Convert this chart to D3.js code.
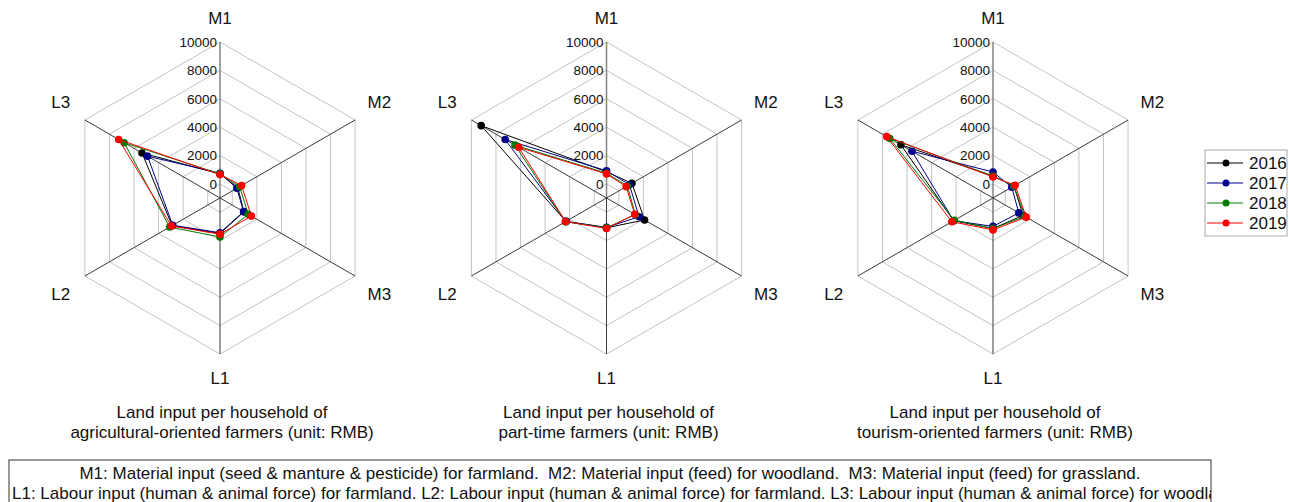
<!DOCTYPE html>
<html>
<head>
<meta charset="utf-8">
<script src="https://cdn.jsdelivr.net/npm/d3@7/dist/d3.min.js"></script>
<style>
  body { margin: 0; background: #fff; }
  text { font-family: "Liberation Sans", Arial, sans-serif; fill: #111; }
</style>
</head>
<body>
<svg id="chart" width="1289" height="502"></svg>
<script>
// ---- data (RMB per household) ----
var axes = ["M1", "M2", "M3", "L1", "L2", "L3"];
var years = ["2016", "2017", "2018", "2019"];
var colors = ["#000000", "#00008b", "#007a00", "#ff0000"];
var tickValues = [0, 2000, 4000, 6000, 8000, 10000];

// rows = years, cols = axes
var agricultural = [
  [700, 450, 950, 1500, 2900, 5350],
  [750, 370, 920, 1450, 2850, 4900],
  [700, 600, 1300, 1750, 3100, 6800],
  [650, 760, 1550, 1550, 2950, 7250]
];
var partTime = [
  [850, 1070, 2100, 1100, 2300, 9200],
  [920, 870, 1650, 1070, 2300, 7250],
  [750, 700, 1350, 1100, 2350, 6450],
  [700, 600, 1300, 1150, 2330, 6150]
];
var tourism = [
  [550, 700, 1450, 1150, 2200, 6500],
  [830, 530, 1100, 1000, 2200, 5600],
  [550, 700, 1600, 1150, 2150, 7400],
  [480, 800, 1700, 1250, 2350, 7650]
];
var panels = [agricultural, partTime, tourism];
var titleLine1 = ["Land input per household of", "Land input per household of", "Land input per household of"];
var titleLine2 = ["agricultural-oriented farmers (unit: RMB)", "part-time farmers (unit: RMB)", "tourism-oriented farmers (unit: RMB)"];
var noteLines = [
  "M1: Material input (seed & manture & pesticide) for farmland.  M2: Material input (feed) for woodland.  M3: Material input (feed) for grassland.",
  "L1: Labour input (human & animal force) for farmland. L2: Labour input (human & animal force) for farmland. L3: Labour input (human & animal force) for woodland."
];

var svg = d3.select("#chart");
var cy = 198;
var cx = d3.scalePoint().domain([0, 1, 2]).range([220, 993]);
var r = d3.scaleLinear().domain([-1000, 10000]).range([0, 156]);
var angle = d3.scalePoint().domain(axes).range([0, 2 * Math.PI * 5 / 6]);

function pt(axis, v) {
  var a = angle(axis);
  return [Math.sin(a) * r(v), -Math.cos(a) * r(v)];
}

panels.forEach(function (data, pi) {
  var g = svg.append("g").attr("transform", "translate(" + cx(pi) + "," + cy + ")");

  // grid rings
  g.selectAll(".ring")
    .data(tickValues)
    .enter().append("polygon")
    .attr("points", function (t) { return axes.map(function (ax) { return pt(ax, t).join(","); }).join(" "); })
    .attr("fill", "none")
    .attr("stroke", "#c4c4c4")
    .attr("stroke-width", 1);

  // spokes
  g.selectAll(".spoke")
    .data(axes)
    .enter().append("line")
    .attr("x1", 0).attr("y1", 0)
    .attr("x2", function (ax) { return pt(ax, 10000)[0]; })
    .attr("y2", function (ax) { return pt(ax, 10000)[1]; })
    .attr("stroke", function (ax, i) { return i === 0 ? "#8a8a8a" : "#3a3a3a"; })
    .attr("stroke-width", function (ax, i) { return i === 0 ? 1.6 : 1; });

  // tick labels
  g.selectAll(".tick")
    .data(tickValues)
    .enter().append("text")
    .attr("x", -3)
    .attr("y", function (t) { return -r(t); })
    .attr("dy", "0.36em")
    .attr("text-anchor", "end")
    .attr("font-size", 13.5)
    .text(function (t) { return t; });

  // axis labels
  g.selectAll(".axlabel")
    .data(axes)
    .enter().append("text")
    .attr("x", function (ax) { return Math.sin(angle(ax)) * 184; })
    .attr("y", function (ax) {
      var c = Math.cos(angle(ax));
      return -c * (Math.abs(c) > 0.99 ? 180 : 192);
    })
    .attr("dy", "0.36em")
    .attr("text-anchor", "middle")
    .attr("font-size", 17)
    .text(function (ax) { return ax; });

  // series
  var line = d3.line().curve(d3.curveLinearClosed);
  data.forEach(function (row, yi) {
    var pts = row.map(function (v, i) { return pt(axes[i], v); });
    g.append("path")
      .attr("d", line(pts))
      .attr("fill", "none")
      .attr("stroke", colors[yi])
      .attr("stroke-width", 1);
    g.selectAll(".dot" + yi)
      .data(pts)
      .enter().append("circle")
      .attr("cx", function (p) { return p[0]; })
      .attr("cy", function (p) { return p[1]; })
      .attr("r", 3.8)
      .attr("fill", colors[yi]);
  });

  // titles
  g.append("text").attr("x", 2).attr("y", 412 - cy).attr("dy", "0.36em")
    .attr("text-anchor", "middle").attr("font-size", 17).text(titleLine1[pi]);
  g.append("text").attr("x", 2).attr("y", 432 - cy).attr("dy", "0.36em")
    .attr("text-anchor", "middle").attr("font-size", 17).text(titleLine2[pi]);
});

// legend
var legend = svg.append("g").attr("transform", "translate(1205,150)");
legend.append("rect").attr("width", 82).attr("height", 86)
  .attr("fill", "#fff").attr("stroke", "#aaa");
var ly = d3.scalePoint().domain(years).range([13, 73]);
years.forEach(function (y, i) {
  legend.append("line").attr("x1", 2).attr("x2", 38).attr("y1", ly(y)).attr("y2", ly(y))
    .attr("stroke", colors[i]).attr("stroke-width", 1);
  legend.append("circle").attr("cx", 21).attr("cy", ly(y)).attr("r", 3.5).attr("fill", colors[i]);
  legend.append("text").attr("x", 44).attr("y", ly(y)).attr("dy", "0.36em")
    .attr("font-size", 17).text(y);
});

// note box
svg.append("clipPath").attr("id", "noteclip")
  .append("rect").attr("x", 9).attr("y", 460).attr("width", 1202).attr("height", 50);
svg.append("rect").attr("x", 9).attr("y", 460).attr("width", 1202).attr("height", 50)
  .attr("fill", "none").attr("stroke", "#333");
var note = svg.append("g").attr("clip-path", "url(#noteclip)");
note.append("text").attr("x", 610).attr("y", 473).attr("dy", "0.36em")
  .attr("text-anchor", "middle").attr("font-size", 17)
  .style("white-space", "pre").text(noteLines[0]);
note.append("text").attr("x", 12).attr("y", 493).attr("dy", "0.36em")
  .attr("font-size", 17).text(noteLines[1]);
</script>
</body>
</html>
